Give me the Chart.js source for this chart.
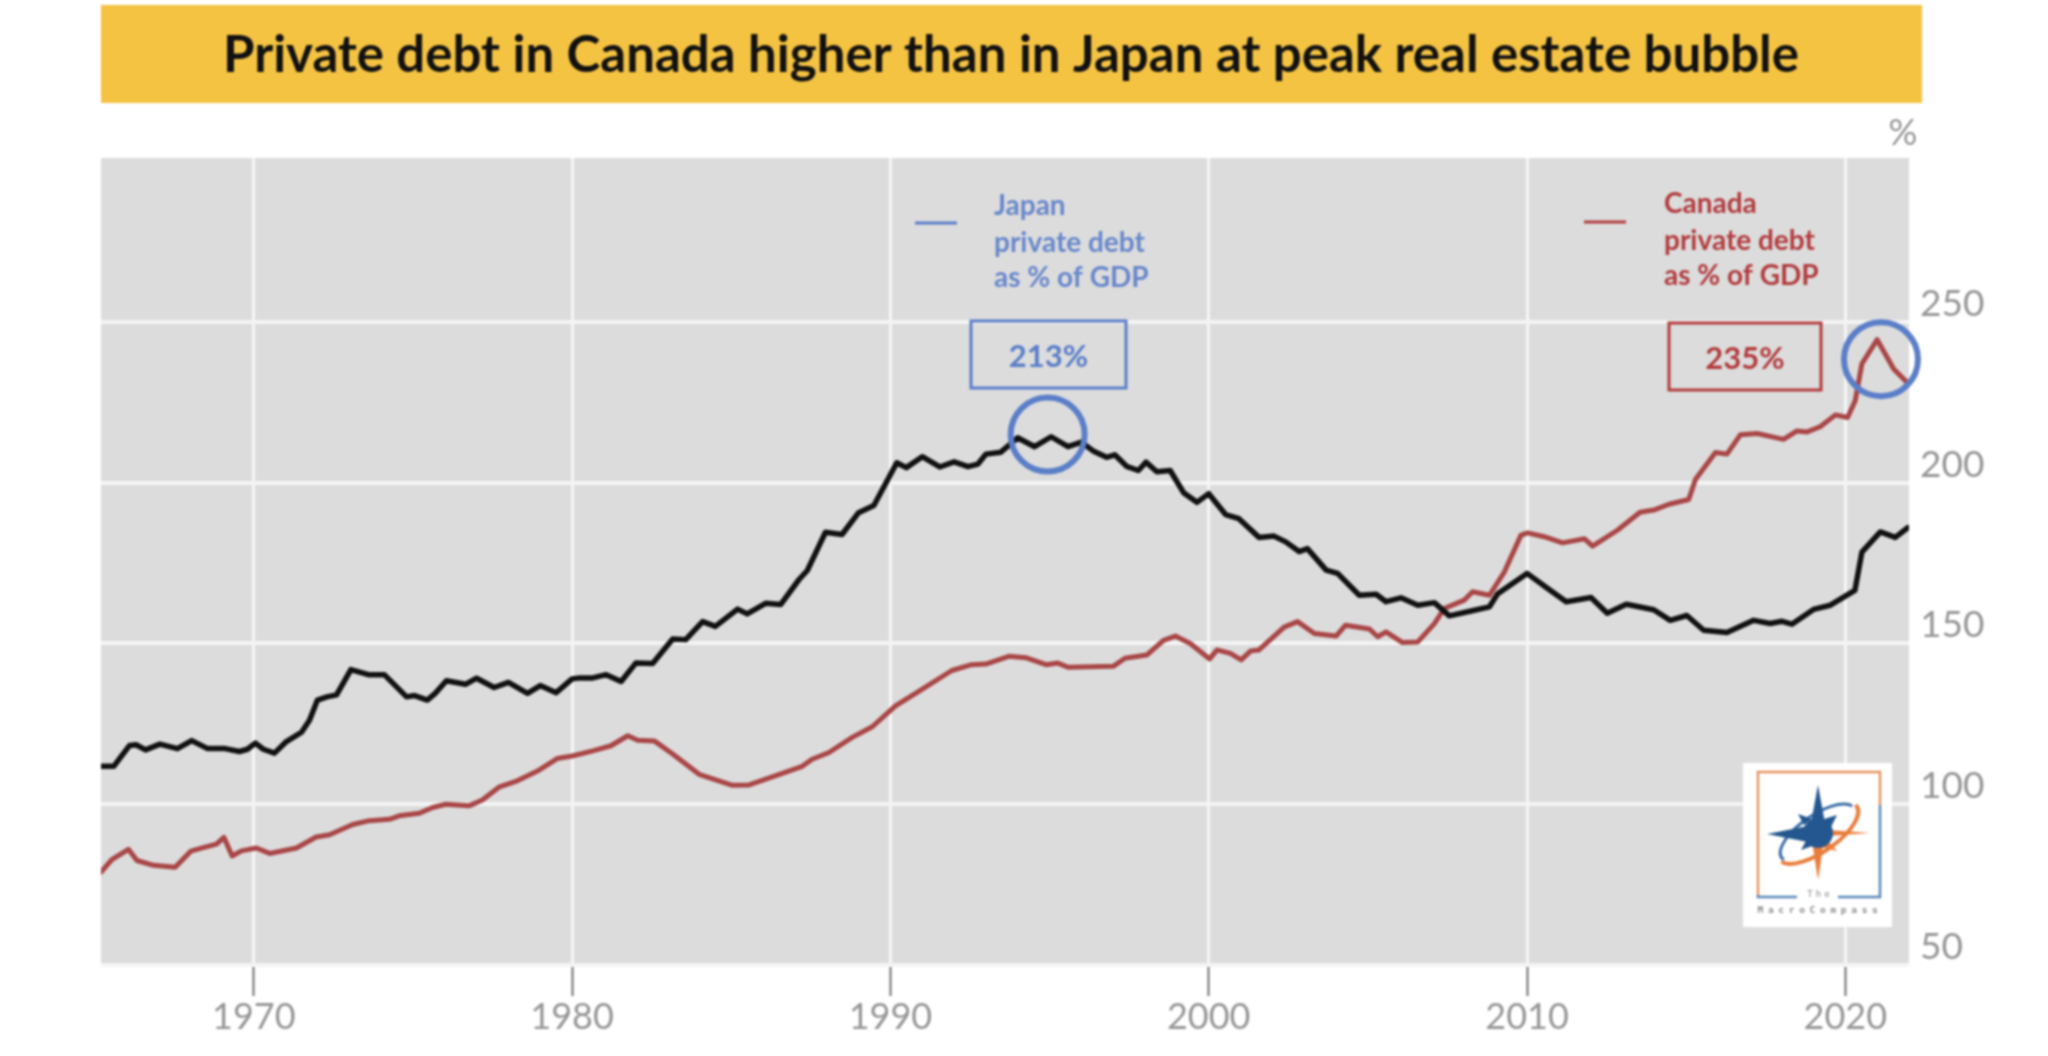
<!DOCTYPE html>
<html>
<head>
<meta charset="utf-8">
<title>Private debt in Canada higher than in Japan at peak real estate bubble</title>
<script src="https://cdn.jsdelivr.net/npm/chart.js@4/dist/chart.umd.min.js"></script>
<style>
html,body{margin:0;padding:0;background:#fff;}
canvas{display:block;filter:blur(0.8px);}
</style>
</head>
<body>
<canvas id="c" width="2048" height="1056"></canvas>
<script>
const titleText = "Private debt in Canada higher than in Japan at peak real estate bubble";
const unitLabel = "%";
const yearTicks = [1970, 1980, 1990, 2000, 2010, 2020];
const valueTicks = [50, 100, 150, 200, 250];

const japanYears = [1965.2,1965.6,1965.8,1966.1,1966.3,1966.6,1967.05,1967.6,1968.05,1968.55,1969.1,1969.55,1969.8,1970.05,1970.3,1970.65,1971,1971.5,1971.75,1972,1972.3,1972.6,1973.05,1973.6,1974.1,1974.8,1975.05,1975.45,1975.7,1976.05,1976.65,1977,1977.55,1978,1978.6,1979,1979.5,1980,1980.23,1980.65,1981.07,1981.54,1982,1982.53,1983.16,1983.57,1984.1,1984.5,1985.2,1985.5,1986.08,1986.55,1987.13,1987.39,1987.96,1988.48,1989,1989.48,1990.2,1990.5,1991,1991.55,1992,1992.44,1992.75,1993,1993.47,1994,1994.53,1995.05,1995.58,1996,1996.37,1996.79,1997.05,1997.42,1997.79,1998.03,1998.37,1998.79,1999.21,1999.63,2000,2000.53,2000.95,2001.58,2002.05,2002.42,2002.84,2003.1,2003.69,2004.05,2004.73,2005.26,2005.57,2006.04,2006.57,2007.09,2007.56,2008.24,2008.82,2009.08,2010,2010.65,2011.23,2012.01,2012.52,2013.12,2013.98,2014.5,2015.02,2015.55,2016.28,2017.12,2017.64,2018.01,2018.32,2019,2019.53,2020.3,2020.52,2021.1,2021.57,2021.96];
const japanValues = [111.8,111.8,114.4,118.3,118.5,116.9,118.7,117.3,119.8,117.3,117.3,116.4,117.1,119,117.1,115.9,119.3,122.4,126.1,132.4,133.4,134,141.9,140.3,140.3,133.4,133.8,132.4,134.5,138.4,137.3,139.2,136.3,137.9,134.5,136.9,134.7,139,139.3,139.3,140.3,138.2,143.9,143.8,151.4,151.2,156.8,155.3,160.7,159.2,162.5,162.1,169.9,172.7,184.6,183.9,190.7,192.9,206.2,204.7,208.1,204.9,206.5,205,205.8,208.9,209.5,214,211.2,214.3,211.2,212.6,209.9,207.9,208.7,205.1,203.8,206.4,203.4,203.8,196.9,193.9,196.6,190.1,188.8,183,183.4,181.6,178.6,179.5,172.8,171.8,165,165.3,163,164.2,161.9,162.7,158.6,160.1,161.4,165.5,171.8,167.1,163,164.3,159.4,162.2,160.5,157.2,158.7,154.1,153.4,157.2,156.2,156.9,156,160.6,161.9,166.5,178.4,184.7,183,186];

const canadaYears = [1965.2,1965.54,1966.06,1966.33,1966.85,1967.53,1968.02,1968.41,1968.83,1969.06,1969.32,1969.61,1970.08,1970.5,1971.34,1971.96,1972.38,1973.11,1973.63,1974.26,1974.57,1975.2,1975.62,1976.03,1976.76,1977.18,1977.7,1978.23,1978.96,1979.53,1980,1980.65,1981.22,1981.75,1982.06,1982.58,1983.16,1983.99,1985.04,1985.56,1986.29,1987.23,1987.54,1988.07,1988.8,1989.43,1990.16,1990.89,1991.93,1992.55,1993,1993.72,1994.25,1994.89,1995.26,1995.58,1997,1997.37,1998.05,1998.58,1998.95,1999.42,2000.03,2000.26,2000.68,2001.02,2001.32,2001.58,2002.37,2002.79,2003.32,2004,2004.3,2005.05,2005.31,2005.57,2006.09,2006.57,2007.09,2007.4,2008.03,2008.29,2008.82,2009.29,2009.81,2010.02,2010.54,2011.12,2011.8,2012.06,2012.85,2013.55,2013.98,2014.46,2015.08,2015.29,2015.92,2016.28,2016.7,2017.23,2018.06,2018.48,2018.8,2019.21,2019.69,2020.07,2020.31,2020.52,2021,2021.52,2021.94];
const canadaValues = [78.9,82.8,86,82.5,81,80.4,85.4,86.5,87.6,89.7,83.9,85.5,86.4,84.7,86.4,89.8,90.5,93.7,94.9,95.3,96.4,97.2,99,100,99.5,101.3,105.3,107.1,110.6,114.2,115,116.6,118.2,121.3,119.9,119.7,115.6,109.3,105.9,106,108.5,111.8,114,116.1,120.8,124.1,130.6,135.1,141.6,143.4,143.6,146,145.6,143.4,143.9,142.6,142.9,145.4,146.4,151,152.3,150,145.2,148,146.9,144.9,147.7,148,155.1,156.8,153.1,152.3,155.7,154.5,152.1,153.6,150.3,150.5,156.2,160.9,163.5,166.1,165,172.3,183.7,184.4,183.2,181.3,182.6,180.3,185.3,190.8,191.5,193.3,194.8,201,209.4,208.9,214.9,215.3,213.5,216.1,215.8,217.4,221.1,220.3,225.5,237,244.5,235.4,231.2];

const peakYears = [1994.94, 2021.12];
const peakValues = [215, 238.4];

const japanLegend = ["Japan", "private debt", "as % of GDP"];
const canadaLegend = ["Canada", "private debt", "as % of GDP"];
const japanPeakLabel = "213%";
const canadaPeakLabel = "235%";

const toPoints = (xs, ys) => xs.map((x, i) => ({x, y: ys[i]}));
const BLUE = "#5a7ec8", BLUE_TEXT = "#6787cb", RED = "#b23b3d", GREY = "#969696";

function drawLogo(ctx) {
  const O = "#e8935f", B = "#5d87b8", N = "#24578f", O2 = "#ea7d3c";
  ctx.save();
  ctx.fillStyle = "#fff"; ctx.fillRect(1743, 763, 149, 164);
  ctx.lineWidth = 2.5; ctx.lineCap = "butt";
  ctx.strokeStyle = O;
  ctx.beginPath(); ctx.moveTo(1758, 897); ctx.lineTo(1758, 772); ctx.lineTo(1880, 772); ctx.lineTo(1880, 805); ctx.stroke();
  ctx.strokeStyle = B;
  ctx.beginPath(); ctx.moveTo(1880, 805); ctx.lineTo(1880, 897); ctx.lineTo(1838, 897); ctx.stroke();
  ctx.beginPath(); ctx.moveTo(1758, 895); ctx.lineTo(1758, 897); ctx.lineTo(1797, 897); ctx.stroke();
  const cx = 1818, cy = 833;
  ctx.lineWidth = 3;
  ctx.strokeStyle = "#3f6fa8";
  ctx.beginPath(); ctx.ellipse(cx, cy, 44, 18, -0.6, Math.PI * 0.95, Math.PI * 1.95); ctx.stroke();
  ctx.lineWidth = 4;
  ctx.strokeStyle = O2;
  ctx.beginPath(); ctx.ellipse(cx, cy, 47, 19, -0.6, -0.1, Math.PI * 0.95); ctx.stroke();
  const spike = (pts, col) => { ctx.fillStyle = col; ctx.beginPath(); pts.forEach((p, i) => i ? ctx.lineTo(p[0], p[1]) : ctx.moveTo(p[0], p[1])); ctx.closePath(); ctx.fill(); };
  spike([[cx + 10, cy - 3], [1870, cy], [cx + 10, cy + 3]], O2);
  spike([[cx - 6, cy + 8], [cx, 880], [cx + 6, cy + 8]], O2);
  spike([[cx + 10, cy + 8], [cx + 19, cy + 18], [cx + 3, cy + 14]], O2);
  spike([[cx - 7, cy - 10], [cx, 785], [cx + 7, cy - 10]], N);
  spike([[cx, cy - 9], [1767, cy + 1], [cx, cy + 11]], N);
  spike([[cx - 14, cy - 8], [cx - 20, cy - 19], [cx - 6, cy - 14]], N);
  spike([[cx + 6, cy - 14], [cx + 19, cy - 18], [cx + 13, cy - 6]], N);
  spike([[cx - 11, cy + 6], [cx - 17, cy + 17], [cx - 3, cy + 12]], N);
  ctx.beginPath(); ctx.fillStyle = N; ctx.arc(cx, cy, 15, 0, Math.PI * 2); ctx.fill();
  ctx.fillStyle = "#8a8a8a"; ctx.textAlign = "center"; ctx.textBaseline = "middle";
  ctx.font = "9px 'DejaVu Sans Mono'"; ctx.letterSpacing = "3px";
  ctx.fillText("The", 1820, 895);
  ctx.font = "bold 9.5px 'DejaVu Sans Mono'"; ctx.letterSpacing = "4.7px";
  ctx.fillText("MacroCompass", 1820, 911);
  ctx.restore();
}

const backgroundPlugin = {
  id: "panel",
  beforeDraw(chart) {
    const {ctx, chartArea: a} = chart;
    ctx.save();
    ctx.fillStyle = "#fff"; ctx.fillRect(0, 0, chart.width, chart.height);
    ctx.fillStyle = "#dcdcdc"; ctx.fillRect(a.left, a.top, a.right - a.left, a.bottom - a.top);
    ctx.restore();
  }
};

const overlayPlugin = {
  id: "overlay",
  beforeDatasetsDraw(chart) {
    const {ctx} = chart;
    ctx.save();
    drawLogo(ctx);
    ctx.restore();
  },
  afterDraw(chart) {
    const {ctx} = chart;
    ctx.save();
    // title banner
    ctx.fillStyle = "#f5c342"; ctx.fillRect(101, 5, 1821, 98);
    ctx.fillStyle = "#111"; ctx.textAlign = "center"; ctx.textBaseline = "alphabetic";
    ctx.font = "bold 51px Lato";
    ctx.fillText(titleText, 1011, 72);
    // unit
    ctx.fillStyle = GREY; ctx.font = "36px Lato"; ctx.textBaseline = "middle";
    ctx.fillText(unitLabel, 1903, 133);
    // legends
    const legend = (lines, lx0, lx1, ly, tx, tys, col, textCol) => {
      ctx.strokeStyle = col; ctx.lineWidth = 3;
      ctx.beginPath(); ctx.moveTo(lx0, ly); ctx.lineTo(lx1, ly); ctx.stroke();
      ctx.fillStyle = textCol; ctx.textAlign = "left"; ctx.textBaseline = "middle";
      ctx.font = "bold 28px Lato";
      lines.forEach((s, i) => ctx.fillText(s, tx, tys[i]));
    };
    legend(japanLegend, 915, 957, 223, 994, [206, 243, 278], BLUE, BLUE_TEXT);
    legend(canadaLegend, 1584, 1626, 222, 1664, [204, 241, 276], RED, RED);
    // value boxes
    const box = (x0, y0, x1, y1, col, text) => {
      ctx.strokeStyle = col; ctx.lineWidth = 3;
      ctx.strokeRect(x0, y0, x1 - x0, y1 - y0);
      ctx.fillStyle = col; ctx.textAlign = "center"; ctx.textBaseline = "middle";
      ctx.font = "bold 31px Lato";
      ctx.fillText(text, (x0 + x1) / 2, (y0 + y1) / 2 + 2);
    };
    box(971, 321, 1126, 388, BLUE, japanPeakLabel);
    box(1669, 323, 1821, 390, RED, canadaPeakLabel);
    ctx.restore();
  }
};

new Chart(document.getElementById("c"), {
  type: "scatter",
  data: {
    datasets: [
      {label: "Canada", data: toPoints(canadaYears, canadaValues), showLine: true, borderColor: "#a94646", borderWidth: 5, pointRadius: 0, tension: 0, borderJoinStyle: "round", borderCapStyle: "round", order: 3},
      {label: "Japan", data: toPoints(japanYears, japanValues), showLine: true, borderColor: "#111111", borderWidth: 5.5, pointRadius: 0, tension: 0, borderJoinStyle: "round", borderCapStyle: "round", order: 2},
      {label: "Peaks", data: toPoints(peakYears, peakValues), showLine: false, pointStyle: "circle", pointRadius: 37, pointBorderWidth: 6, pointBorderColor: BLUE, pointBackgroundColor: "rgba(0,0,0,0)", clip: false, order: 1}
    ]
  },
  options: {
    responsive: false,
    animation: false,
    events: [],
    layout: {padding: {left: 101, top: 158, right: 0, bottom: 0}},
    plugins: {legend: {display: false}, tooltip: {enabled: false}, title: {display: false}},
    scales: {
      x: {
        type: "linear", min: 1965.2, max: 2022,
        afterBuildTicks: s => { s.ticks = yearTicks.map(v => ({value: v})); },
        afterFit: s => { s.height = 91; },
        border: {display: false},
        grid: {color: "#f6f6f6", lineWidth: 3, tickColor: "#6f6f6f", tickWidth: 2, tickLength: 31},
        ticks: {color: GREY, font: {family: "Lato", size: 36}, padding: 0, maxRotation: 0, autoSkip: false, callback: v => String(v)}
      },
      y: {
        type: "linear", position: "right", min: 50, max: 301,
        afterBuildTicks: s => { s.ticks = valueTicks.map(v => ({value: v})); },
        afterFit: s => { s.width = 139; },
        border: {display: false},
        grid: {color: "#f4f4f4", lineWidth: 4, drawTicks: false},
        ticks: {color: GREY, font: {family: "Lato", size: 37}, padding: 11, labelOffset: -18, autoSkip: false, callback: v => String(v)}
      }
    }
  },
  plugins: [backgroundPlugin, overlayPlugin]
});
</script>
</body>
</html>
